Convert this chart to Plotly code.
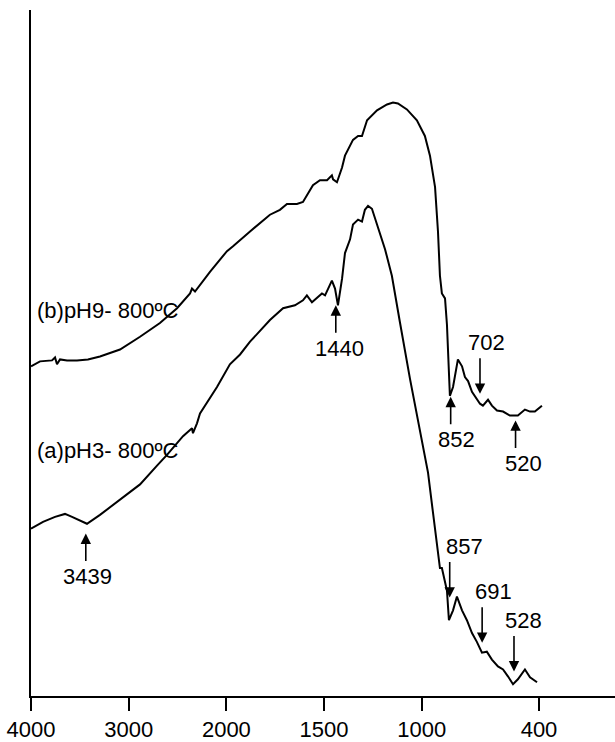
import numpy as np
import plotly.graph_objects as go

# ---------------- data ----------------
# wavenumber (cm-1) and transmittance (arbitrary units)
wn_b = [4000, 3908, 3785, 3754, 3734, 3703, 3631, 3529, 3417, 3294, 3089, 2884, 2680,
        2505, 2372, 2352, 2321, 2168, 1997, 1966, 1879, 1777, 1726, 1690, 1639, 1608,
        1557, 1521, 1485, 1460, 1454, 1434, 1408, 1393, 1352, 1326, 1306, 1280, 1229,
        1178, 1147, 1122, 1076, 1025, 984, 958, 932, 917, 907, 897, 881, 871, 856, 840,
        815, 794, 779, 763, 743, 702, 687, 661, 641, 615, 584, 549, 508, 472, 446, 421, 385]
t_b = [335, 340, 341, 344, 337, 342, 341, 341, 342, 345, 352, 365, 379,
       394, 409, 414, 411, 431, 452, 457, 472, 489, 494, 500, 500, 502,
       519, 524, 524, 529, 525, 522, 537, 549, 565, 569, 569, 585, 595,
       601, 603, 602, 596, 585, 569, 549, 517, 472, 427, 409, 404, 377, 305, 314,
       342, 335, 324, 320, 309, 297, 295, 301, 295, 290, 289, 285, 285, 291, 289, 289, 295]

wn_a = [4000, 3877, 3754, 3652, 3580, 3498, 3427, 3294, 3120, 2884, 2710, 2608, 2444,
        2352, 2342, 2301, 2270, 2096, 1982, 1930, 1879, 1777, 1710, 1649, 1608, 1588,
        1562, 1536, 1511, 1495, 1460, 1444, 1429, 1408, 1393, 1367, 1352, 1326, 1306,
        1291, 1275, 1255, 1224, 1188, 1153, 1137, 1112, 1060, 1009, 968, 943, 917, 907,
        897, 891, 871, 861, 840, 820, 794, 769, 743, 718, 692, 667, 641, 610, 584, 559,
        533, 508, 472, 446, 410]
t_a = [170, 177, 182, 185, 182, 178, 175, 184, 197, 215, 234, 245, 264,
       272, 267, 277, 287, 314, 337, 347, 360, 382, 394, 397, 402, 407,
       400, 405, 409, 407, 422, 414, 397, 424, 450, 464, 479, 484, 482,
       494, 498, 495, 477, 454, 427, 407, 380, 322, 267, 227, 187, 147, 130,
       130, 125, 107, 77, 87, 101, 87, 77, 64, 55, 44, 45, 37, 30, 27, 20,
       12, 17, 27, 19, 14]

# labelled bands: wavenumber, curve value at arrow tip, arrow direction
band_wn = [3439, 1440, 852, 520, 702, 857, 691, 528]
band_tip = [165, 397, 304, 280, 307, 100, 54, 25]
band_up = [True, True, True, True, False, False, False, False]

tick_wn = [4000, 3000, 2000, 1500, 1000, 400]
series_names = ["(b)pH9- 800ºC", "(a)pH3- 800ºC"]
series_label_y = [392, 249]


# ---------------- scale: x2 expansion below 2000 cm-1 ----------------
def to_axis(w):
    w = np.asarray(w, dtype=float)
    return np.where(w >= 2000, 4000 - w, 2000 + 2 * (2000 - w))


FONT = "Liberation Sans, Arial, sans-serif"

fig = go.Figure()
for wn, t in [(wn_b, t_b), (wn_a, t_a)]:
    fig.add_trace(go.Scatter(x=to_axis(wn), y=t, mode="lines",
                             line=dict(color="black", width=2),
                             showlegend=False, hoverinfo="skip"))

annotations = []
label_dx = [2, 4, 6, 8, 7, 15, 11, 10]
for wn, tip, up, dx in zip(band_wn, band_tip, band_up, label_dx):
    x = float(to_axis(wn))
    annotations.append(dict(x=x, y=tip, text="", showarrow=True,
                            ax=0, ay=29 if up else -37,
                            arrowhead=2, arrowsize=1.3, arrowwidth=1.6,
                            arrowcolor="black"))
    annotations.append(dict(x=x, y=tip, text=str(wn), showarrow=False,
                            xshift=dx, yshift=-43 if up else 51,
                            font=dict(family=FONT, size=22, color="black")))

for name, yv in zip(series_names, series_label_y):
    annotations.append(dict(x=float(to_axis(3958)), y=yv, text=name, showarrow=False,
                            xanchor="left", yanchor="middle",
                            font=dict(family=FONT, size=22, color="black")))

fig.update_layout(
    width=615, height=742,
    margin=dict(l=31, r=0, t=10, b=35),
    paper_bgcolor="white", plot_bgcolor="white",
    annotations=annotations,
    xaxis=dict(range=[0, 5978], showgrid=False, zeroline=False,
               showline=True, linecolor="black", linewidth=1.5,
               ticks="outside", ticklen=13, tickwidth=2, tickcolor="black",
               tickvals=to_axis(tick_wn).tolist(),
               ticktext=[str(t) for t in tick_wn],
               tickfont=dict(family=FONT, size=22, color="black")),
    yaxis=dict(range=[0, 697], showgrid=False, zeroline=False,
               showline=True, linecolor="black", linewidth=2,
               ticks="", showticklabels=False),
)

fig.write_html("out.html")
